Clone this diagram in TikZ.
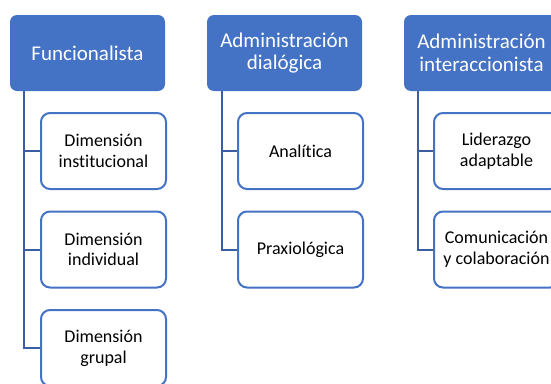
\documentclass[tikz,border=0pt]{standalone}
\usepackage{fontspec}
\setmainfont[Ligatures=NoCommon]{Carlito}
\usetikzlibrary{positioning}
\definecolor{HeadBlue}{RGB}{68,114,196}
\definecolor{TreeBlue}{RGB}{59,94,160}

\begin{document}
\begin{tikzpicture}
	\tikzstyle{Head} = [fill=HeadBlue, draw=none, rounded corners=7pt, minimum width=155pt, minimum height=76pt, inner sep=0pt, text=white, align=center, font=\fontsize{21}{22.5}\selectfont]
	\tikzstyle{Element} = [draw=HeadBlue, line width=2pt, fill=white, rounded corners=9pt, minimum width=125pt, minimum height=76pt, inner sep=0pt, align=center, font=\fontsize{18}{20.7}\selectfont, node distance=98.5pt]
	\tikzstyle{Tree} = [draw=TreeBlue, line width=2pt]
	
	\useasboundingbox (0,0) rectangle (551pt,-383pt);
	
	\node[name=h0, Head] at (87.5pt,-53pt) {Funcionalista};
	\node[name=h1, Head, node distance=197pt, right of=h0] {Administración\\dialógica};
	\node[name=h2, Head, node distance=197pt, right of=h1] {Administración\\interaccionista};
	
	\node[name=d0, Element, node distance=98pt, below of=h0, xshift=16pt]{Dimensión\\institucional};
	\node[name=d1, Element, below of=d0]{Dimensión\\individual};
	\node[name=d2, Element, below of=d1]{Dimensión\\grupal};
	
	\node[name=p0, Element, node distance=98pt, below of=h1, xshift=16pt]{Analítica};
	\node[name=p1, Element, below of=p0]{Praxiológica};
	
	\node[name=i0, Element, node distance=98pt, below of=h2, xshift=15pt]{Liderazgo\\adaptable};
	\node[name=i1, Element, below of=i0]{Comunicación\\y colaboración};
	
	\draw[Tree] ([xshift=14pt]h0.south west) |- (d0.west);
	\draw[Tree] ([xshift=14pt]h0.south west) |- (d1.west);
	\draw[Tree] ([xshift=14pt]h0.south west) |- (d2.west);
	
	\draw[Tree] ([xshift=15pt]h1.south west) |- (p0.west);
	\draw[Tree] ([xshift=15pt]h1.south west) |- (p1.west);
	
	\draw[Tree] ([xshift=14pt]h2.south west) |- (i0.west);
	\draw[Tree] ([xshift=14pt]h2.south west) |- (i1.west);
\end{tikzpicture}
\end{document}
